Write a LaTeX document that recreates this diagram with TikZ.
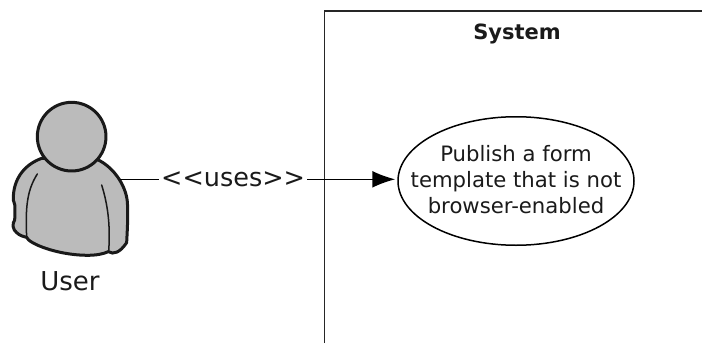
\documentclass[tikz,border=0pt]{standalone}
\usepackage{fontspec}
\setmainfont{DejaVu Sans}
\usetikzlibrary{arrows.meta,shapes.geometric}
\definecolor{txt}{HTML}{1A1A1A}
\definecolor{actorfill}{HTML}{BBBBBB}
\tikzset{
  sysline/.style={draw=black!85,line width=1.5pt},
  usecase/.style={ellipse,draw=black,line width=1.5pt,fill=white,minimum width=236pt,minimum height=128.5pt,inner sep=0pt},
  usetext/.style={align=center,text=txt,inner sep=0pt,font=\fontsize{21.2}{26}\selectfont},
  actoroutline/.style={draw=black!90,line width=3pt,line join=round,fill=actorfill},
  actorline/.style={draw=black!90,line width=1.5pt,line cap=round},
  conn/.style={draw=black,line width=1.5pt,-{Latex[length=23pt,width=17pt]},shorten >=2pt},
  lbl/.style={text=txt,inner sep=0pt}
}
\begin{document}
\begin{tikzpicture}[x=1pt,y=-1pt]
\useasboundingbox (0,0) rectangle (702,343);
% system boundary
\draw[sysline] (324.5,343) -- (324.5,11) -- (702,11);
\node[lbl,font=\fontsize{21}{24}\bfseries\selectfont] (sys) at (517,34) {System};
% use case
\node[usecase] (uc) at (516,181) {};
\node[usetext] (uctext) at (516,180) {Publish a form\\template that is not\\browser-enabled};
% actor
\begin{scope}[x=0.3333pt,y=-0.3333pt,shift={(0,240)}]
\draw[actoroutline] (125,235) .. controls (70,255) and (40,300) .. (40,355)
  .. controls (38,362) and (46,370) .. (45,385) .. controls (45,400) and (45,410) .. (44,420)
  .. controls (36,430) and (38,450) .. (50,458) .. controls (58,466) and (70,470) .. (80,472)
  .. controls (85,490) and (170,525) .. (260,526) .. controls (290,526) and (310,522) .. (325,515)
  .. controls (340,525) and (360,518) .. (380,488) .. controls (382,450) and (385,400) .. (382,365)
  .. controls (378,320) and (345,265) .. (295,240) -- cycle;
\draw[actorline] (112,282) .. controls (85,325) and (75,370) .. (80,470);
\draw[actorline] (305,315) .. controls (322,370) and (332,430) .. (326,515);
\draw[actoroutline] (215,170) circle (103);
\coordinate (actorside) at (360,298);
\end{scope}
\node[lbl,font=\fontsize{26}{30}\selectfont] (usr) at (70,281) {User};
% connector
\draw[conn] (actorside) -- (actorside -| uc.west) node[pos=0.408,fill=white,lbl,font=\fontsize{25.5}{30}\selectfont,inner xsep=2pt,inner ysep=3pt] (uses) {<{}<uses>{}>};
\end{tikzpicture}
\end{document}
